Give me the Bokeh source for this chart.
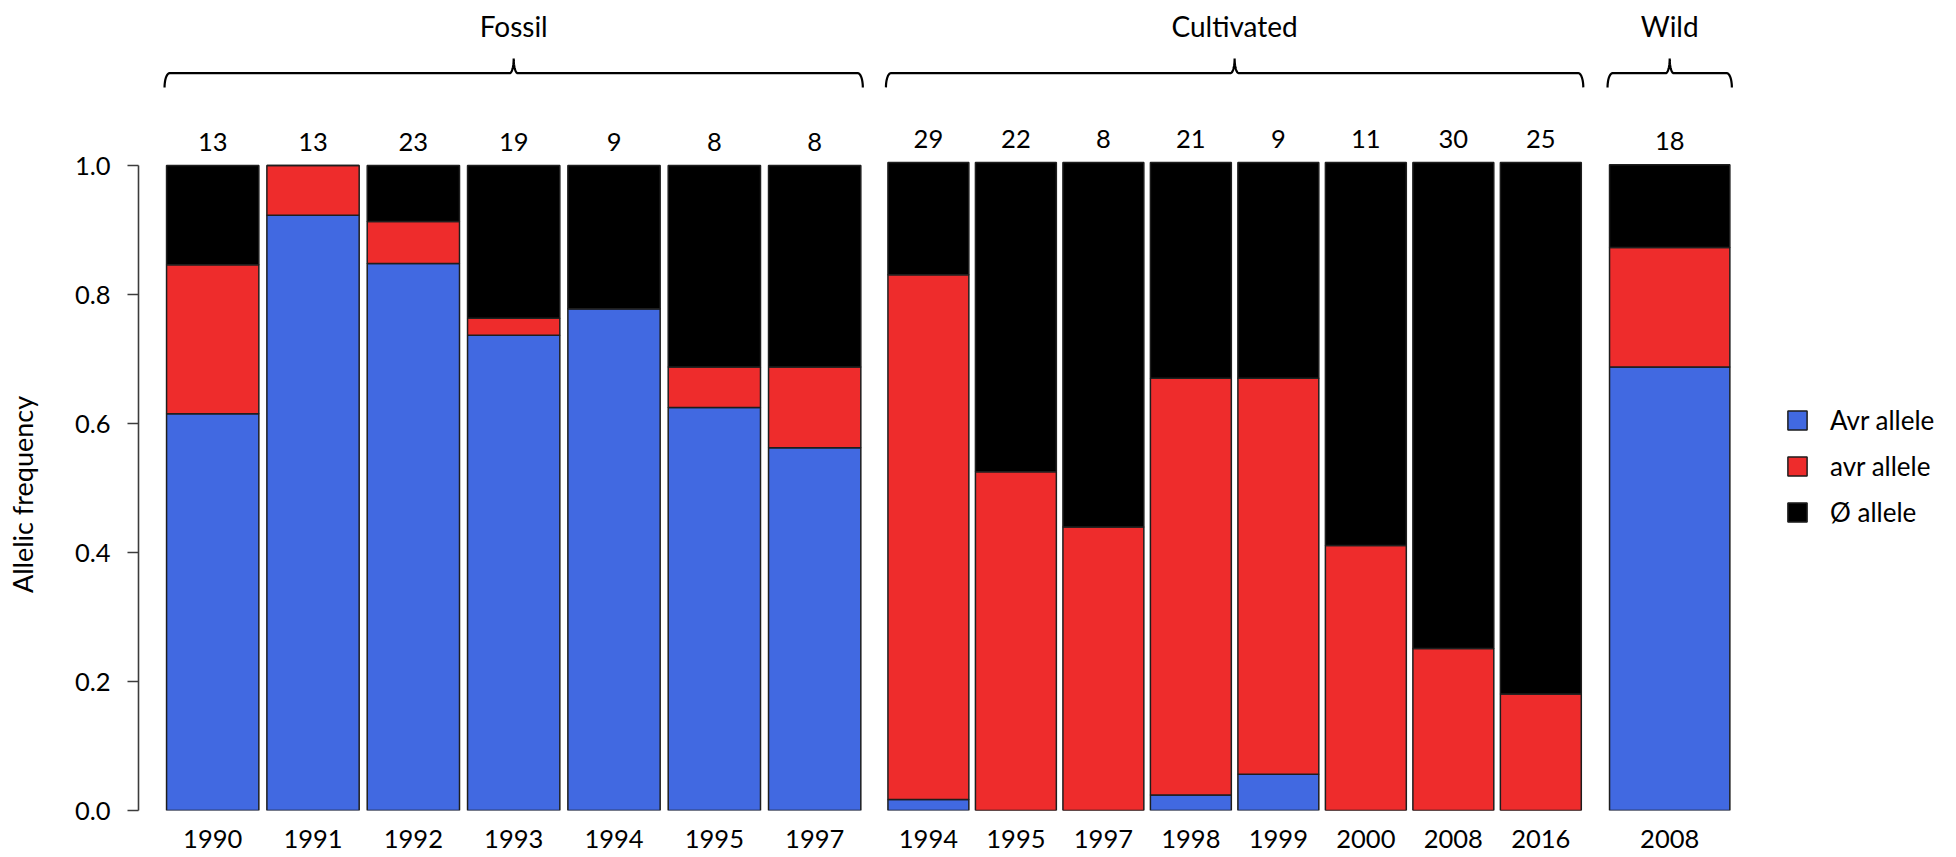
import math

from bokeh.core.properties import value
from bokeh.embed import file_html
from bokeh.layouts import row
from bokeh.models import ColumnDataSource, FixedTicker, PrintfTickFormatter, Range1d
from bokeh.plotting import figure
from bokeh.resources import INLINE

# ---------------------------------------------------------------- data
fossil_years = ["1990", "1991", "1992", "1993", "1994", "1995", "1997"]
fossil_n = [13, 13, 23, 19, 9, 8, 8]
fossil_Avr = [0.615, 0.923, 0.848, 0.737, 0.778, 0.625, 0.5625]
fossil_avr = [0.231, 0.077, 0.065, 0.026, 0.0, 0.0625, 0.125]
fossil_null = [0.154, 0.0, 0.087, 0.237, 0.222, 0.3125, 0.3125]

cult_years = ["1994", "1995", "1997", "1998", "1999", "2000", "2008", "2016"]
cult_n = [29, 22, 8, 21, 9, 11, 30, 25]
cult_Avr = [0.017, 0.0, 0.0, 0.024, 0.056, 0.0, 0.0, 0.0]
cult_avr = [0.810, 0.523, 0.4375, 0.643, 0.611, 0.409, 0.25, 0.18]
cult_null = [0.173, 0.477, 0.5625, 0.333, 0.333, 0.591, 0.75, 0.82]

wild_years = ["2008"]
wild_n = [18]
wild_Avr = [0.687]
wild_avr = [0.185]
wild_null = [0.128]

allele_labels = ["Avr allele", "avr allele", "\u00d8 allele"]
y_ticks = [0.0, 0.2, 0.4, 0.6, 0.8, 1.0]
y_title = "Allelic frequency"

# ---------------------------------------------------------------- style
FONT = "Lato"
COLORS = ["#4169E1", "#EE2C2C", "#000000"]
EDGE = "#1e1e1e"
AXIS = "#3c3c3c"
BAR_W = 0.92
PAGE_H = 857
TICK_FS = "25.5px"
GROUP_FS = "28px"
TITLE_FS = "27px"

GROUP_MID = 25.5        # px from page top to the middle of the group titles
BRACE_Y = 72.7          # px from page top
BRACE_HOOK = 14.3       # px the ends drop below the brace line
BRACE_PEAK = 14.7       # px the centre point rises above it
COUNT_GAP = 24          # px between bar top and the middle of the sample-size label
TITLE_STRIP = 50        # width of the strip holding the y-axis title
TITLE_X = 22            # centre of the y-axis title, px from the page's left edge
TITLE_Y = 0.49          # vertical centre of the y-axis title, in frequency units


def brace_path(xa, xb, y_line, px_x, px_y, r_end=5.0, r_mid=4.0, hook=BRACE_HOOK,
               peak=BRACE_PEAK, steps=12):
    """Horizontal curly brace from xa to xb (data units), opening downwards."""
    xm = (xa + xb) / 2
    xs, ys = [], []
    for k in range(steps + 1):                       # left hook
        t = k / steps * math.pi / 2
        xs.append(xa + r_end * px_x * (1 - math.cos(t)))
        ys.append(y_line - hook * px_y * (1 - math.sin(t)))
    for k in range(steps + 1):                       # rise to the centre point
        t = k / steps * math.pi / 2
        xs.append(xm - r_mid * px_x + r_mid * px_x * math.sin(t))
        ys.append(y_line + peak * px_y * (1 - math.cos(t)))
    for k in range(steps + 1):                       # back down to the line
        t = (steps - k) / steps * math.pi / 2
        xs.append(xm + r_mid * px_x - r_mid * px_x * math.sin(t))
        ys.append(y_line + peak * px_y * (1 - math.cos(t)))
    for k in range(steps + 1):                       # right hook
        t = (steps - k) / steps * math.pi / 2
        xs.append(xb - r_end * px_x * (1 - math.cos(t)))
        ys.append(y_line - hook * px_y * (1 - math.sin(t)))
    return xs, ys


def make_panel(group, years, n, Avr, avr, null, left, frame_left, right,
               first_center, pitch, bottom, top, bar_w=BAR_W, yaxis=False, legend=False):
    scale = bottom - top                      # px per unit of frequency
    idx = list(range(len(years)))
    x_start = (frame_left - first_center) / pitch
    x_end = (right - first_center) / pitch

    p = figure(width=right - left, height=PAGE_H,
               x_range=Range1d(x_start, x_end), y_range=Range1d(0, bottom / scale),
               output_backend="svg", toolbar_location=None,
               y_axis_location="left" if yaxis else None,
               min_border_left=frame_left - left, min_border_right=0,
               min_border_top=0, min_border_bottom=PAGE_H - bottom,
               outline_line_color=None, background_fill_color="white",
               border_fill_color="white")
    p.grid.visible = False

    src = ColumnDataSource(dict(x=idx, Avr=Avr, avr=avr, null=null,
                                n=[str(v) for v in n]))
    kw = dict(legend_label=allele_labels) if legend else {}
    p.vbar_stack(["Avr", "avr", "null"], x="x", width=bar_w, source=src,
                 fill_color=COLORS, line_color=EDGE, line_width=1.5, **kw)

    # sample sizes above each bar
    p.text(x="x", y=1.0 + COUNT_GAP / scale, text="n", source=src,
           text_align="center", text_baseline="middle",
           text_font=value(FONT), text_font_size=TICK_FS, text_color="black")

    # group brace and title
    px_x = 1.0 / pitch
    px_y = 1.0 / scale
    xa = -bar_w / 2 - 2 * px_x
    xb = len(years) - 1 + bar_w / 2 + 2 * px_x
    bx, by = brace_path(xa, xb, (bottom - BRACE_Y) / scale, px_x, px_y)
    p.line(bx, by, line_color="black", line_width=2.2)
    p.text(x=[(xa + xb) / 2], y=[(bottom - GROUP_MID) / scale], text=[group],
           text_align="center", text_baseline="middle",
           text_font=value(FONT), text_font_size=GROUP_FS, text_color="black")

    # x axis: year labels only
    xa_ = p.xaxis[0]
    xa_.ticker = FixedTicker(ticks=idx)
    xa_.major_label_overrides = {i: yr for i, yr in zip(idx, years)}
    xa_.axis_line_color = None
    xa_.major_tick_line_color = None
    xa_.minor_tick_line_color = None
    xa_.major_label_standoff = 13
    xa_.major_label_text_font = FONT
    xa_.major_label_text_font_size = TICK_FS
    xa_.major_label_text_color = "black"

    if yaxis:
        ya = p.yaxis[0]
        ya.ticker = FixedTicker(ticks=y_ticks)
        ya.formatter = PrintfTickFormatter(format="%.1f")
        ya.bounds = (0, 1)
        ya.axis_line_color = AXIS
        ya.axis_line_width = 1.6
        ya.major_tick_line_color = AXIS
        ya.major_tick_line_width = 1.6
        ya.major_tick_out = 11
        ya.major_tick_in = 0
        ya.minor_tick_line_color = None
        ya.major_label_standoff = 17
        ya.major_label_text_font = FONT
        ya.major_label_text_font_size = TICK_FS
        ya.major_label_text_color = "black"

    if legend:
        lg = p.legend[0]
        lg.location = (190, 282)
        lg.padding = 0
        lg.margin = 0
        lg.border_line_color = None
        lg.background_fill_alpha = 0
        lg.glyph_width = 24
        lg.glyph_height = 24
        lg.label_standoff = 21
        lg.spacing = 14
        lg.label_text_font = FONT
        lg.label_text_font_size = "26px"
        lg.label_text_color = "black"
    return p


# narrow strip carrying the rotated y-axis title, on the same vertical scale
strip = figure(width=TITLE_STRIP, height=PAGE_H,
               x_range=Range1d(0, TITLE_STRIP), y_range=Range1d(0, 810 / 645),
               output_backend="svg", toolbar_location=None,
               x_axis_location=None, y_axis_location=None,
               min_border_left=0, min_border_right=0, min_border_top=0,
               min_border_bottom=PAGE_H - 810, outline_line_color=None)
strip.grid.visible = False
strip.text(x=[TITLE_X], y=[TITLE_Y], text=[y_title], angle=math.pi / 2,
           text_align="center", text_baseline="middle",
           text_font=value(FONT), text_font_size=TITLE_FS, text_color="black")

p_fossil = make_panel("Fossil", fossil_years, fossil_n, fossil_Avr, fossil_avr, fossil_null,
                      left=TITLE_STRIP, frame_left=138, right=873, first_center=212.2,
                      pitch=100.33, bottom=810, top=165, yaxis=True)
p_cult = make_panel("Cultivated", cult_years, cult_n, cult_Avr, cult_avr, cult_null,
                    left=873, frame_left=873, right=1595, first_center=927.9, pitch=87.49,
                    bottom=811, top=162.3, bar_w=0.925)
p_wild = make_panel("Wild", wild_years, wild_n, wild_Avr, wild_avr, wild_null,
                    left=1595, frame_left=1595, right=1956, first_center=1669.2, pitch=130.8,
                    bottom=810, top=164.3, legend=True)

layout = row(strip, p_fossil, p_cult, p_wild, spacing=0)

with open("out.html", "w") as f:
    f.write(file_html(layout, INLINE))
